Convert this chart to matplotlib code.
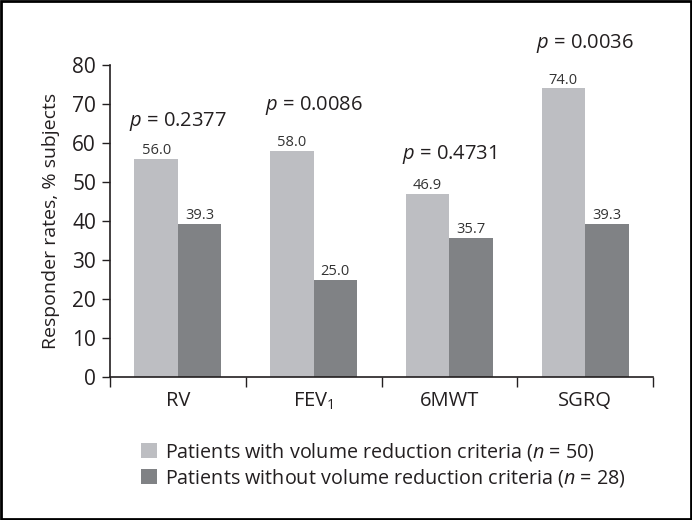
import matplotlib
matplotlib.use("Agg")
import matplotlib.pyplot as plt
from matplotlib.patches import Rectangle, Patch
import numpy as np

plt.rcParams['font.family'] = ['Open Sans', 'DejaVu Sans']
plt.rcParams['mathtext.fontset'] = 'custom'
plt.rcParams['mathtext.rm'] = 'Open Sans'
plt.rcParams['mathtext.it'] = 'Open Sans:italic'

categories = ["RV", "FEV$_1$", "6MWT", "SGRQ"]
with_criteria = [56.0, 58.0, 46.9, 74.0]
without_criteria = [39.3, 25.0, 35.7, 39.3]
p_values = ["0.2377", "0.0086", "0.4731", "0.0036"]
p_label_y = [65.4, 69.5, 57.0, 85.6]
series_names = ["Patients with volume reduction criteria ($n$ = 50)",
                "Patients without volume reduction criteria ($n$ = 28)"]
yticks = [0, 10, 20, 30, 40, 50, 60, 70, 80]

light = "#bdbec2"
dark = "#808285"
txt = "#231f20"

fig = plt.figure(figsize=(6.92, 5.20), dpi=100)
ax = fig.add_axes([110/692, 1-377/520, (653-110)/692, (377-65)/520])

x = np.arange(len(categories))
w = 0.32
b1 = ax.bar(x - w/2, with_criteria, w, color=light, zorder=2)
b2 = ax.bar(x + w/2, without_criteria, w, color=dark, zorder=2)

for bars, vals in ((b1, with_criteria), (b2, without_criteria)):
    for r, v in zip(bars, vals):
        ax.text(r.get_x() + r.get_width()/2, v + 0.2, f"{v:.1f}", ha="center",
                va="bottom", fontsize=10.5, color="#333333")

for i, (pv, py) in enumerate(zip(p_values, p_label_y)):
    ax.text(x[i], py, f"$p$ = {pv}", ha="center", va="center", fontsize=14.5,
            color=txt, clip_on=False)

ax.set_xlim(-0.5, len(categories) - 0.5)
ax.set_ylim(0, 80)
ax.set_yticks(yticks)
ax.tick_params(axis="y", labelsize=15, colors=txt, length=6, width=1, direction="out", pad=4)
ax.set_xticks(x)
ax.set_xticklabels(categories, fontsize=14.5, color=txt)
ax.tick_params(axis="x", length=0, pad=10)
ax.set_xticks(np.arange(-0.5, len(categories)), minor=True)
ax.tick_params(axis="x", which="minor", length=7, width=1, direction="out", color=txt)

for s in ("top", "right"):
    ax.spines[s].set_visible(False)
for s in ("left", "bottom"):
    ax.spines[s].set_color(txt)
    ax.spines[s].set_linewidth(1.2)

ax.set_ylabel("Responder rates, % subjects", fontsize=14, color=txt, labelpad=9)

handles = [Patch(facecolor=light, edgecolor="none"), Patch(facecolor=dark, edgecolor="none")]
fig.legend(handles, series_names, loc="upper left", bbox_to_anchor=(141/692, 1-441/520),
           frameon=False, fontsize=14.2, handlelength=0.8, handleheight=0.8,
           handletextpad=0.4, labelspacing=0.2, borderaxespad=0, borderpad=0)
for t in fig.legends[0].get_texts():
    t.set_color(txt)

fig.patches.append(Rectangle((0.0015, 0.002), 0.997, 0.996, transform=fig.transFigure,
                             fill=False, edgecolor="black", linewidth=2))

fig.savefig("out.png", dpi=100)
